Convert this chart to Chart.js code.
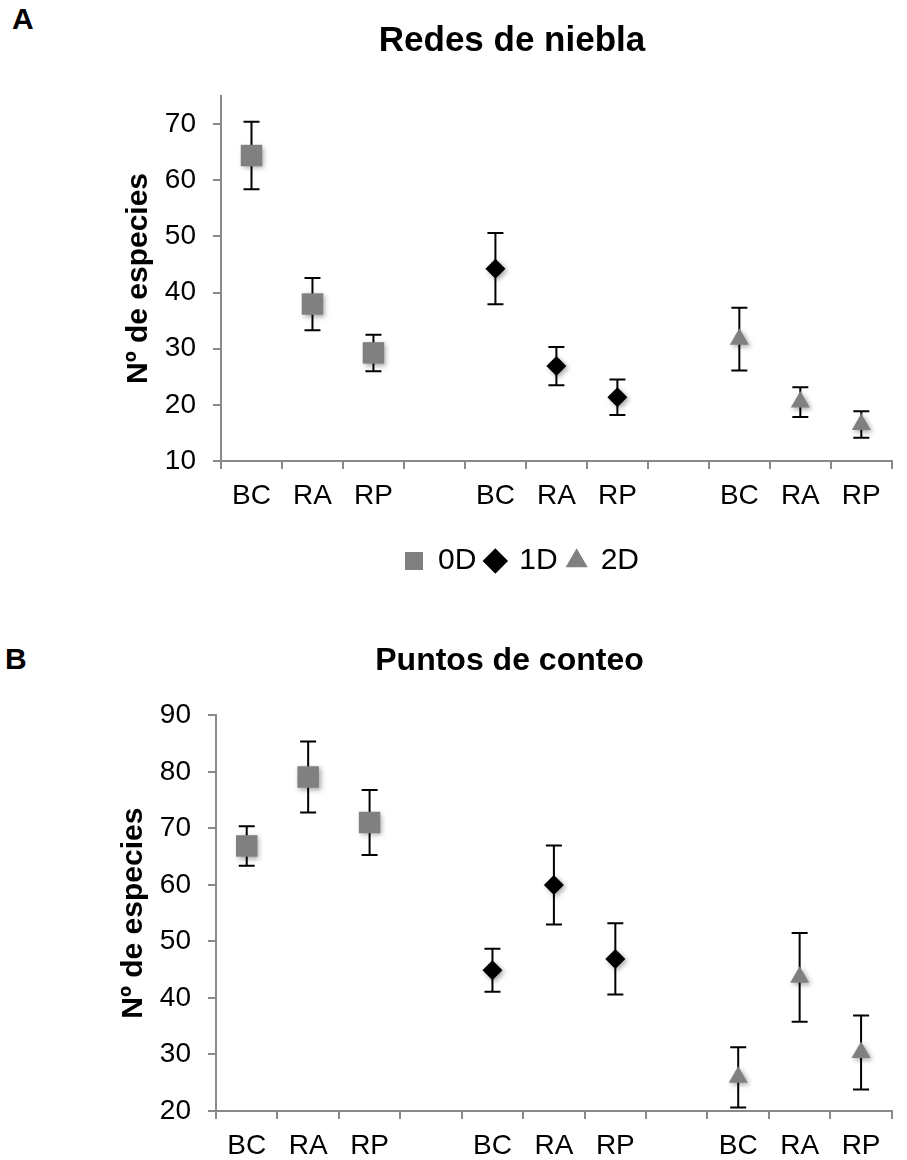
<!DOCTYPE html>
<html>
<head>
<meta charset="utf-8">
<script src="https://cdn.jsdelivr.net/npm/chart.js@4/dist/chart.umd.min.js"></script>
<style>
    html, body { margin: 0; padding: 0; background: #fff; overflow: hidden; }
    #page { position: relative; width: 907px; height: 1160px; }
    .panel-label { position: absolute; font: bold 30px 'Liberation Sans', Arial, sans-serif; line-height: 30px; color: #000; }
    .chart-box { position: absolute; left: 0; }
</style>
</head>
<body>
<div id="page">
    <div class="panel-label" style="left:12px; top:4px;">A</div>
    <div class="chart-box" style="top:0; width:907px; height:600px;">
        <canvas id="chartA" width="907" height="600"></canvas>
    </div>
    <div class="panel-label" style="left:5px; top:644px;">B</div>
    <div class="chart-box" style="top:600px; width:907px; height:562px;">
        <canvas id="chartB" width="907" height="562"></canvas>
    </div>
</div>
<script>
// sitios y series (media y error)
const sites = ['BC', 'RA', 'RP'];
const seriesNames = ['0D', '1D', '2D'];

// A - Redes de niebla
const redes0D = [64.4, 37.95, 29.25];
const redes0DErr = [6.0, 4.65, 3.25];
const redes1D = [44.25, 26.9, 21.35];
const redes1DErr = [6.35, 3.4, 3.15];
const redes2D = [31.7, 20.5, 16.5];
const redes2DErr = [5.6, 2.65, 2.35];
const redesTicks = [10, 20, 30, 40, 50, 60, 70];

// B - Puntos de conteo
const puntos0D = [66.9, 79.1, 71.05];
const puntos0DErr = [3.5, 6.3, 5.75];
const puntos1D = [44.9, 60.0, 46.9];
const puntos1DErr = [3.8, 7.0, 6.3];
const puntos2D = [25.95, 43.65, 30.35];
const puntos2DErr = [5.35, 7.85, 6.55];
const puntosTicks = [20, 30, 40, 50, 60, 70, 80, 90];

const FONT = "'Liberation Sans', Arial, sans-serif";
const GREY = '#808080';
const AXIS = '#8a8a8a';

Chart.defaults.font.family = FONT;
Chart.defaults.color = '#000';

// etiquetas: tres grupos separados por una categoria vacia
const labels = [...sites, '', ...sites, '', ...sites];

// coloca los valores de un grupo en su posicion del eje
function place(values, group) {
    const out = new Array(labels.length).fill(null);
    values.forEach((v, i) => { out[group * 4 + i] = v; });
    return out;
}

function makeDatasets(means, errs) {
    const styles = [
        { pointStyle: 'rect', color: GREY, radius: 15.2 },
        { pointStyle: 'rectRot', color: '#000', radius: 10 },
        { pointStyle: 'triangle', color: GREY, radius: 11 }
    ];
    return styles.map((s, g) => ({
        label: seriesNames[g],
        data: place(means[g], g),
        errors: place(errs[g], g),
        showLine: false,
        pointStyle: s.pointStyle,
        pointRadius: s.radius,
        pointHoverRadius: s.radius,
        backgroundColor: s.color,
        borderColor: s.color,
        pointBackgroundColor: s.color,
        pointBorderColor: s.color,
        pointBorderWidth: 0,
        clip: false
    }));
}

// barras de error dibujadas con la escala y
const errorBars = {
    id: 'errorBars',
    beforeDatasetsDraw(chart) {
        const ctx = chart.ctx;
        const yScale = chart.scales.y;
        ctx.save();
        ctx.strokeStyle = '#000';
        ctx.lineWidth = 2;
        chart.data.datasets.forEach((ds, i) => {
            const meta = chart.getDatasetMeta(i);
            meta.data.forEach((pt, j) => {
                const v = ds.data[j];
                if (v == null) return;
                const e = ds.errors[j];
                const top = yScale.getPixelForValue(v + e);
                const bottom = yScale.getPixelForValue(v - e);
                ctx.beginPath();
                ctx.moveTo(pt.x, top);
                ctx.lineTo(pt.x, bottom);
                ctx.moveTo(pt.x - 8, top);
                ctx.lineTo(pt.x + 8, top);
                ctx.moveTo(pt.x - 8, bottom);
                ctx.lineTo(pt.x + 8, bottom);
                ctx.stroke();
            });
        });
        ctx.restore();
    }
};

// sombra suave de los marcadores
const markerShadow = {
    id: 'markerShadow',
    beforeDatasetDraw(chart) {
        const ctx = chart.ctx;
        ctx.save();
        ctx.shadowColor = 'rgba(0,0,0,0.35)';
        ctx.shadowBlur = 5;
        ctx.shadowOffsetX = 2;
        ctx.shadowOffsetY = 2;
    },
    afterDatasetDraw(chart) {
        chart.ctx.restore();
    }
};

// la leyenda del original queda un poco a la derecha del centro
const legendShift = {
    id: 'legendShift',
    afterLayout(chart) {
        if (chart.legend && chart.options.plugins.legend.display) {
            chart.legend.left += 10;
            chart.legend.right += 10;
        }
    }
};

function buildChart(canvasId, cfg) {
    const ctx = document.getElementById(canvasId).getContext('2d');
    return new Chart(ctx, {
        type: 'line',
        data: {
            labels: labels,
            datasets: makeDatasets(cfg.means, cfg.errs)
        },
        options: {
            responsive: false,
            animation: false,
            devicePixelRatio: 1,
            layout: { padding: { left: cfg.left, right: 0, top: 0, bottom: cfg.bottom } },
            plugins: {
                title: {
                    display: true,
                    text: cfg.title,
                    color: '#000',
                    font: { size: cfg.titleSize, weight: 'bold' },
                    padding: { top: cfg.titleTop, bottom: cfg.titleBottom }
                },
                legend: {
                    display: cfg.legend,
                    position: 'bottom',
                    labels: {
                        usePointStyle: true,
                        boxWidth: 18,
                        boxHeight: 18,
                        padding: 10,
                        color: '#000',
                        font: { size: 30 }
                    }
                },
                tooltip: { enabled: false }
            },
            scales: {
                x: {
                    offset: true,
                    grid: {
                        offset: true,
                        drawOnChartArea: false,
                        drawTicks: true,
                        tickLength: 8,
                        color: AXIS,
                        lineWidth: 2
                    },
                    border: { color: AXIS, width: 2 },
                    ticks: {
                        autoSkip: false,
                        maxRotation: 0,
                        padding: 10,
                        color: '#000',
                        font: { size: 28 }
                    },
                    afterFit: (scale) => { scale.height = cfg.xHeight; }
                },
                y: {
                    min: cfg.ticks[0],
                    max: cfg.max,
                    afterBuildTicks: (scale) => {
                        scale.ticks = cfg.ticks.map(v => ({ value: v }));
                    },
                    afterFit: (scale) => { scale.width = 104; },
                    grid: {
                        drawOnChartArea: false,
                        tickLength: 8,
                        color: AXIS,
                        lineWidth: 2
                    },
                    border: { color: AXIS, width: 2 },
                    ticks: {
                        padding: 17,
                        color: '#000',
                        font: { size: 28 }
                    },
                    title: {
                        display: true,
                        text: 'Nº de especies',
                        color: '#000',
                        font: { size: 30, weight: 'bold' },
                        padding: { top: 4, bottom: 4 }
                    }
                }
            }
        },
        plugins: [errorBars, markerShadow, legendShift]
    });
}

buildChart('chartA', {
    title: 'Redes de niebla',
    titleSize: 35, titleTop: 20, titleBottom: 34,
    means: [redes0D, redes1D, redes2D],
    errs: [redes0DErr, redes1DErr, redes2DErr],
    ticks: redesTicks, max: 75,
    left: 117, bottom: 14, xHeight: 75, legend: true
});

buildChart('chartB', {
    title: 'Puntos de conteo',
    titleSize: 32, titleTop: 42, titleBottom: 35,
    means: [puntos0D, puntos1D, puntos2D],
    errs: [puntos0DErr, puntos1DErr, puntos2DErr],
    ticks: puntosTicks, max: 90,
    left: 112, bottom: 0, xHeight: 51, legend: false
});
</script>
</body>
</html>
